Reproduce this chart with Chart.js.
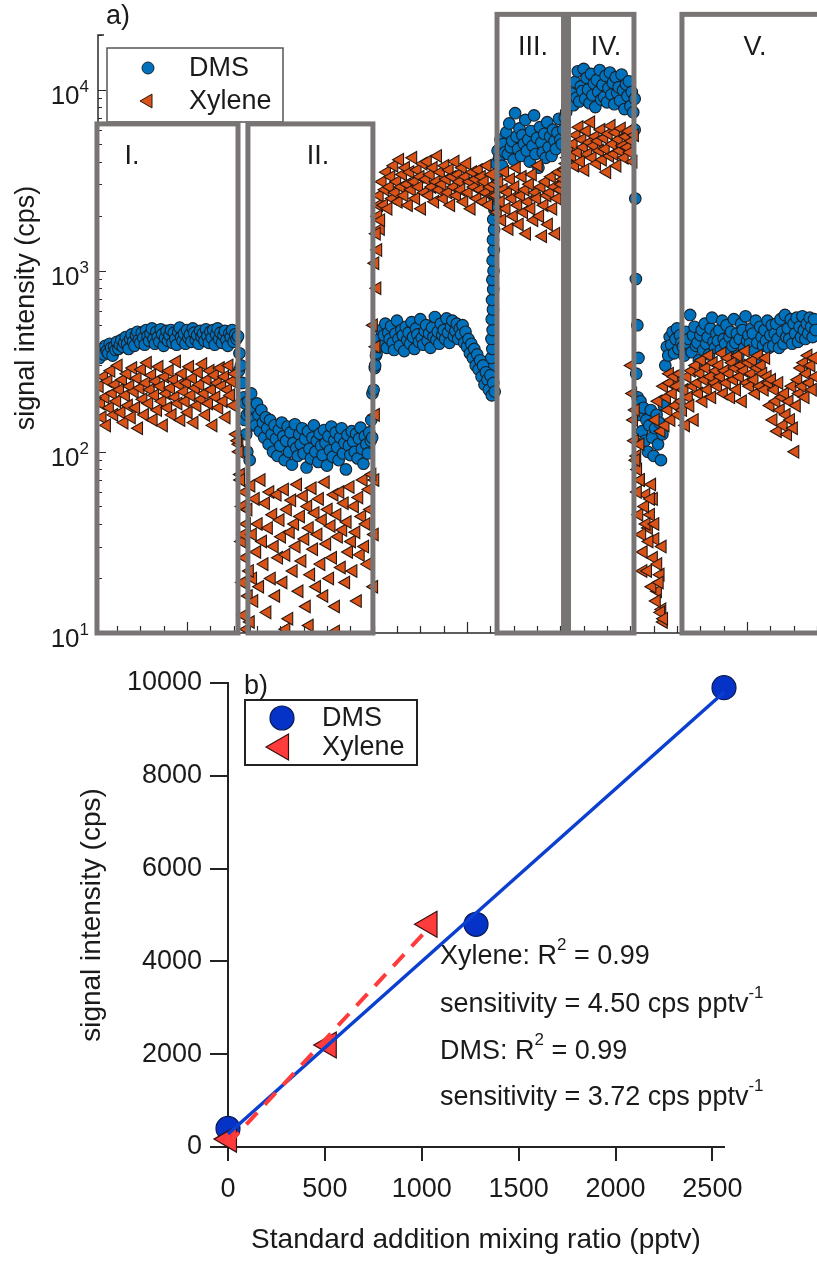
<!DOCTYPE html>
<html lang="en">
<head>
<meta charset="UTF-8">
<title>DMS and xylene standard addition</title>
<script src="https://cdn.jsdelivr.net/npm/chart.js"></script>
<style>
    body { margin: 0; background: #fff; }
    #wrap { position: relative; width: 817px; height: 1261px; }
    canvas { position: absolute; left: 0; }
    #timeChart { top: 0; }
    #calChart { top: 650px; }
</style>
</head>
<body>
<div id="wrap">
    <canvas id="timeChart" width="817" height="650"></canvas>
    <canvas id="calChart" width="817" height="611"></canvas>
</div>
<script>
// ---------- panel a) : signal per sample ----------
const firstSample = -12;

const dmsSignal = [
    // period I
    330, 355, 370, 345, 385, 360, 350, 395, 375, 340, 380, 365,
    405, 370, 390, 415, 380, 400, 430, 395, 370, 420, 445, 405,
    385, 440, 460, 415, 400, 455, 425, 390, 470, 435, 410, 450,
    480, 420, 395, 460, 430, 405, 475, 445, 385, 425, 465, 410,
    440, 470, 400, 455, 420, 390, 460, 485, 430, 410, 450, 395,
    470, 425, 445, 405, 480, 455, 415, 440, 395, 465, 430, 450,
    410, 475, 435, 400, 460, 425, 470, 390, 445, 480, 420, 455,
    400, 440, 465, 415, 385, 450, 430, 470, 405, 445, 420, 435,
    350, 300, 240, 200, 185, 160,
    // period II
    190, 165, 210, 150, 175, 140, 185, 160, 130, 170, 145, 120,
    155, 135, 110, 150, 125, 100, 140, 118, 95, 132, 108, 145,
    122, 90, 115, 138, 100, 128, 85, 112, 142, 105, 95, 125,
    110, 135, 98, 118, 82, 130, 104, 92, 120, 140, 100, 115,
    88, 126, 108, 96, 132, 112, 84, 122, 102, 138, 94, 116,
    128, 106, 90, 120, 135, 98, 112, 80, 124, 108, 96, 130,
    114, 100, 126, 92, 118, 136, 104, 86, 122, 110, 98, 128,
    115, 120,
    // between II and III
    220, 300, 350, 380, 420, 470, 390, 440, 510, 375, 455, 420,
    495, 400, 365, 450, 530, 420, 385, 470, 440, 360, 490, 415,
    455, 395, 520, 430, 370, 480, 445, 405, 540, 425, 390, 465,
    500, 410, 450, 375, 485, 430, 555, 415, 460, 395, 510, 440,
    470, 420, 545, 455, 400, 490, 530, 435, 465, 510, 420, 480,
    445, 500, 400, 460, 380, 420, 350, 395, 330, 370, 300, 345,
    285, 320, 260, 300, 235, 275, 250, 220, 265, 205, 240, 215,
    // period III
    3900, 4600, 4200, 5300, 3800, 5000, 4500, 5800, 4400, 6500, 4800, 5200,
    4100, 7400, 5500, 4700, 6100, 4300, 5600, 5000, 6800, 4600, 5300, 4000,
    5900, 4900, 7200, 4400, 5400, 3700, 6200, 5100, 4500, 5700, 4200, 6600,
    4800, 5500, 4300, 6000, 5200, 4700, 5800, 6900, 5300, 5000,
    6000, 7000, 7500, 8200, 8600, 9000,
    // period IV
    9500, 8200, 11000, 9000, 12600, 8600, 10400, 9800, 13000, 8900, 11600, 10000,
    8400, 12200, 9300, 10800, 8000, 11300, 9700, 12800, 8800, 10600, 9100, 11900,
    8500, 10200, 12400, 9400, 10900, 8300, 11700, 9600, 10300, 8700, 12100, 9900,
    7800, 10700, 9200, 11100, 8100, 9700, 7500, 8900,
    270, 200, 160, 190, 130, 175, 115, 150, 100, 140, 170, 120,
    95, 135, 160, 110, 145, 90, 125, 180, 300, 380, 340, 430,
    390, 460, 350, 420, 480, 370, 440, 400,
    // period V
    380, 340, 460, 400, 420, 570, 355, 440, 490, 385, 400, 320,
    440, 470, 365, 510, 395, 430, 345, 480, 550, 405, 375, 450,
    410, 470, 365, 530, 420, 395, 500, 355, 430, 460, 385, 540,
    400, 450, 340, 420, 510, 470, 375, 560, 410, 440, 395, 480,
    450, 360, 530, 400, 330, 490, 430, 385, 470, 410, 530, 375,
    440, 500, 385, 450, 510, 420, 375, 540, 460, 395, 570, 430,
    480, 420, 540, 395, 510, 450, 550, 405, 490, 430, 560, 470,
    420, 510, 450, 550, 490, 430, 540, 470
];

const xyleneSignal = [
    // period I
    230, 185, 155, 260, 200, 140, 245, 175, 280, 210, 160, 235,
    190, 300, 220, 165, 250, 145, 205, 270, 180, 230, 155, 290,
    215, 175, 255, 135, 225, 285, 195, 160, 240, 310, 185, 220,
    265, 150, 205, 245, 170, 295, 230, 190, 140, 260, 210, 175,
    280, 225, 160, 250, 200, 315, 185, 235, 150, 270, 215, 190,
    240, 165, 295, 205, 255, 145, 225, 180, 275, 235, 195, 305,
    210, 160, 250, 185, 280, 220, 140, 265, 200, 240, 175, 290,
    230, 190, 260, 155, 220, 300, 205, 245, 180, 270, 125, 115,
    100, 70, 50, 35, 60, 40,
    // period II
    48, 22, 65, 35, 15, 55, 28, 40, 18, 70, 32, 24,
    52, 13, 38, 60, 20, 45, 30, 16, 58, 26, 42, 34,
    19, 62, 27, 48, 12, 36, 54, 22, 40, 30, 66, 17,
    44, 25, 57, 33, 14, 50, 38, 21, 63, 29, 46, 18,
    35, 55, 24, 42, 16, 68, 31, 48, 20, 39, 26, 58,
    14, 45, 34, 60, 23, 37, 52, 19, 41, 28, 64, 32,
    22, 50, 36, 15, 56, 27, 44, 70, 30, 40, 24, 62,
    48, 75,
    // between II and III
    500, 1100, 1600, 2000, 2600, 1900, 3100, 2300, 2800, 3500, 2200, 2900,
    3300, 2500, 3800, 2700, 3100, 2400, 4100, 2900, 3400, 2600, 3700, 3000,
    2300, 3500, 2800, 4200, 3100, 2500, 3600, 2900, 3300, 2200, 3900, 2700,
    3200, 4000, 2600, 3400, 2900, 3700, 2400, 3100, 4300, 2800, 3500, 3000,
    2500, 3800, 3200, 2700, 3600, 2300, 3300, 2900, 4000, 2600, 3400, 3100,
    2800, 3700, 2400, 3300, 3900, 2700, 3100, 2200, 3500, 2900, 3200, 2500,
    3600, 2800, 3300, 2400, 3100, 2700, 3800, 2300, 2900, 3400, 2600, 3000,
    // period III
    2600, 2100, 3100, 2400, 1900, 2800, 3500, 2200, 2700, 1700, 3200, 2500,
    2000, 2900, 3700, 2300, 1800, 2600, 3300, 2100, 2800, 1600, 2400, 3000,
    2200, 3400, 1900, 2700, 2500, 3800, 2000, 2900, 1550, 2300, 3100, 2600,
    1800, 2700, 3300, 2200, 2900, 1600, 2500, 3500, 2800, 3000,
    3200, 3600, 3900, 4200, 4500, 4300,
    // period IV
    4300, 5000, 3800, 5600, 4500, 6200, 4000, 5300, 4800, 3600, 5900, 4400,
    5100, 6600, 4200, 4900, 5500, 3900, 5200, 4600, 6000, 4100, 5400, 4700,
    3500, 5700, 4300, 6300, 5000, 4400, 5800, 3800, 5300, 4600, 6100, 4900,
    4200, 5500, 4800, 5900, 4500, 5200, 4000, 5600,
    90, 60, 45, 70, 35, 28, 50, 40, 22, 32, 55, 18,
    26, 40, 15, 24, 19, 13, 30, 12,
    140, 200, 170, 240, 150, 210, 260, 180, 230, 160, 270, 190,
    // period V
    170, 220, 140, 260, 200, 180, 280, 230, 150, 300, 240, 210,
    270, 320, 190, 250, 290, 220, 340, 260, 200, 310, 240, 280,
    230, 300, 260, 350, 210, 280, 240, 330, 270, 200, 310, 250,
    290, 220, 340, 260, 300, 190, 280, 360, 240, 310, 230, 270,
    320, 250, 210, 290, 340, 230, 300, 270, 220, 330, 260, 240,
    180, 250, 150, 220, 190, 130, 240, 170, 200, 140, 210, 160,
    125, 190, 150, 230, 135, 100, 180, 250, 210, 290, 230, 310,
    200, 270, 340, 240, 300, 220, 330, 260
];

// extra readings logged while the standard flow was switching [sample, cps]
const dmsSwitch = [
    [83.6, 280], [85.2, 240], [86.4, 190], [87.6, 150], [88.6, 125], [89.4, 100], [91, 90], [92.6, 140],
    [174.4, 150], [175.2, 210], [176.8, 290], [177.6, 340], [178.6, 390],
    [256.4, 260], [257.2, 290], [256.6, 330], [257.4, 370], [256.8, 420], [257.6, 470], [257.0, 540],
    [257.8, 610], [257.2, 690], [258.0, 790], [257.4, 890], [258.2, 1000], [257.6, 1140], [258.4, 1300],
    [257.8, 1480], [258.6, 1690], [258.0, 1920], [258.8, 2170], [259.0, 2500], [259.4, 2900], [259.8, 3300],
    [355, 6000], [355.4, 2500], [355.8, 900], [356.8, 500], [357.6, 330]
];
const xyleneSwitch = [
    [83.8, 110], [84.8, 75], [85.6, 32], [86.2, 19], [87, 12.5], [88, 26], [89, 10.5], [90.2, 16],
    [91.6, 11.5], [93.2, 20], [116, 10.5], [132, 11], [150, 10.2],
    [176.2, 18], [176.6, 35], [177, 70], [177.4, 160], [177.8, 380], [178.4, 800], [179, 1300], [179.6, 2300], [180.8, 1700],
    [352.8, 300], [353.8, 210], [354.4, 150], [355, 115], [355.6, 170], [356.6, 95], [357.2, 80], [358.8, 110],
    [359.2, 70], [360.8, 22], [362.8, 58], [364.6, 38], [366.8, 66], [369, 33], [370.8, 17], [372.6, 21],
    [373.8, 13.5], [374.8, 11.5], [366, 45], [368, 55],
    [369.2, 150], [371.2, 190], [373.2, 130], [375, 230], [379, 270], [383, 240]
];

// measurement periods (sample range, box top in cps)
const periodNames = ['I.', 'II.', 'III.', 'IV.', 'V.'];
const periodStart = [-13.7, 89.8, 260.6, 309.6, 387.4];
const periodEnd = [83.0, 175.5, 306.2, 354.5, 520];
const periodTop = [6460, 6460, 26000, 26000, 26000];
const periodLabelX = [132, 318, 533, 606, 755];

const decadeTicks = [10, 100, 1000, 10000];
const decadeExp = ['1', '2', '3', '4'];

// ---------- panel b) : standard addition ----------
const dmsAdded = [0, 1280, 2560];
const dmsCps = [400, 4800, 9900];
const xyleneAdded = [5, 520, 1040];
const xyleneCps = [170, 2200, 4800];
const dmsFitX = [0, 2560];
const dmsFitY = [280, 9800];
const xyleneFitX = [0, 1040];
const xyleneFitY = [60, 4740];
const mixTicks = [0, 500, 1000, 1500, 2000, 2500];
const cpsTicks = [0, 2000, 4000, 6000, 8000, 10000];

const FONT = "'Liberation Sans', Arial, Helvetica, sans-serif";
Chart.defaults.font.family = FONT;

const pts = (xs, ys) => xs.map((v, i) => ({ x: v, y: ys[i] }));
const series = vals => vals.map((v, i) => ({ x: firstSample + i, y: v }));
const pairs = list => list.map(([x, y]) => ({ x, y }));

const DMS_A = { pointStyle: 'circle', pointRadius: 5.8, pointBackgroundColor: '#0072BD', pointBorderColor: '#1a2129', pointBorderWidth: 1.1 };
const XYL_A = { pointStyle: 'triangle', pointRadius: 7.3, pointRotation: -90, pointBackgroundColor: '#D95319', pointBorderColor: '#281810', pointBorderWidth: 1.1 };

function marker(ctx, x, y, fill, stroke, opts) {
    ctx.fillStyle = fill;
    ctx.strokeStyle = stroke;
    ctx.lineWidth = opts.borderWidth;
    Chart.helpers.drawPoint(ctx, opts, x, y);
}

// text with superscript parts: [[text, isSup], ...]
function richText(ctx, parts, x, y, size) {
    let cx = x;
    ctx.textAlign = 'left';
    ctx.textBaseline = 'middle';
    for (const [txt, sup] of parts) {
        const s = sup ? Math.round(size * 0.62) : size;
        ctx.font = s + 'px ' + FONT;
        ctx.fillText(txt, cx, sup ? y - size * 0.45 : y);
        cx += ctx.measureText(txt).width;
    }
}

// axes, period boxes and legend for panel a
const panelA = {
    id: 'panelA',
    afterDraw(chart) {
        const { ctx, chartArea: a, scales: { x, y } } = chart;
        ctx.save();

        // axis lines
        ctx.strokeStyle = '#2a2a2a';
        ctx.lineWidth = 1.5;
        ctx.beginPath();
        ctx.moveTo(a.left + 6, a.top);
        ctx.lineTo(a.left, a.top);
        ctx.lineTo(a.left, a.bottom);
        ctx.lineTo(a.right, a.bottom);
        ctx.stroke();

        // log ticks, pointing inwards
        ctx.lineWidth = 1.2;
        ctx.beginPath();
        for (const d of decadeTicks) {
            for (let m = 1; m < 10; m++) {
                const v = d * m;
                if (v > y.max) break;
                const py = Math.round(y.getPixelForValue(v)) + 0.5;
                ctx.moveTo(a.left, py);
                ctx.lineTo(a.left + (m === 1 ? 8 : 4), py);
            }
        }
        for (let t = 0; t <= x.max; t += 16) {
            const px = Math.round(x.getPixelForValue(t)) + 0.5;
            ctx.moveTo(px, a.bottom);
            ctx.lineTo(px, a.bottom - ((t - 48) % 192 === 0 ? 11 : 7));
        }
        ctx.stroke();

        // decade labels
        ctx.fillStyle = '#1a1a1a';
        ctx.textAlign = 'left';
        ctx.textBaseline = 'alphabetic';
        decadeTicks.forEach((v, i) => {
            const py = y.getPixelForValue(v);
            ctx.font = '17px ' + FONT;
            const we = ctx.measureText(decadeExp[i]).width;
            ctx.font = '26px ' + FONT;
            const wb = ctx.measureText('10').width;
            const right = 89;
            ctx.fillText('10', right - we - wb, py + 14);
            ctx.font = '17px ' + FONT;
            ctx.fillText(decadeExp[i], right - we, py + 2);
        });

        // axis title
        ctx.save();
        ctx.translate(27, 308);
        ctx.rotate(-Math.PI / 2);
        ctx.textAlign = 'center';
        ctx.textBaseline = 'middle';
        ctx.font = '27px ' + FONT;
        ctx.fillText('signal intensity (cps)', 0, 0);
        ctx.restore();

        // panel letter
        ctx.font = '27px ' + FONT;
        ctx.textAlign = 'left';
        ctx.textBaseline = 'middle';
        ctx.fillText('a)', 106, 17);

        // legend
        ctx.fillStyle = '#fff';
        ctx.fillRect(107, 48, 176, 74);
        ctx.strokeStyle = '#555';
        ctx.lineWidth = 1.5;
        ctx.strokeRect(107, 48, 176, 74);
        marker(ctx, 148, 68, '#0072BD', '#1c232b', { pointStyle: 'circle', radius: 6, borderWidth: 1, rotation: 0 });
        marker(ctx, 148, 101, '#D95319', '#2a1a12', { pointStyle: 'triangle', radius: 8, borderWidth: 1, rotation: -90 });
        ctx.fillStyle = '#1a1a1a';
        ctx.font = '27px ' + FONT;
        ctx.fillText('DMS', 189, 69);
        ctx.fillText('Xylene', 189, 102);

        // period boxes
        ctx.strokeStyle = '#787474';
        ctx.lineWidth = 5;
        periodNames.forEach((name, i) => {
            const x0 = x.getPixelForValue(periodStart[i]);
            const x1 = x.getPixelForValue(periodEnd[i]);
            const y0 = y.getPixelForValue(periodTop[i]);
            ctx.strokeRect(x0, y0, x1 - x0, a.bottom - y0);
        });

        ctx.fillStyle = '#1a1a1a';
        ctx.font = '27px ' + FONT;
        ctx.textAlign = 'center';
        periodNames.forEach((name, i) => {
            const y0 = y.getPixelForValue(periodTop[i]);
            ctx.fillText(name, periodLabelX[i], y0 + 33);
        });

        ctx.restore();
    }
};

new Chart(document.getElementById('timeChart'), {
    type: 'scatter',
    data: {
        datasets: [
            { label: 'Xylene', data: series(xyleneSignal), ...XYL_A },
            { label: 'Xylene switching', data: pairs(xyleneSwitch), ...XYL_A },
            { label: 'DMS', data: series(dmsSignal), ...DMS_A },
            { label: 'DMS switching', data: pairs(dmsSwitch), ...DMS_A }
        ]
    },
    options: {
        responsive: false,
        animation: false,
        devicePixelRatio: 1,
        events: [],
        layout: { autoPadding: false, padding: { left: 98, right: 0, top: 35, bottom: 17 } },
        plugins: { legend: { display: false }, tooltip: { enabled: false } },
        scales: {
            x: { type: 'linear', min: -13, max: 480, display: false },
            y: { type: 'logarithmic', min: 10, max: 20000, display: false }
        }
    },
    plugins: [panelA]
});

// legend, panel letter and fit statistics for panel b
const panelB = {
    id: 'panelB',
    afterDraw(chart) {
        const { ctx } = chart;
        ctx.save();
        ctx.fillStyle = '#1a1a1a';
        ctx.font = '27px ' + FONT;
        ctx.textAlign = 'left';
        ctx.textBaseline = 'middle';
        ctx.fillText('b)', 244, 37);

        ctx.strokeStyle = '#222';
        ctx.lineWidth = 2;
        ctx.strokeRect(245, 50, 172, 65);
        marker(ctx, 282, 68, '#0533c8', '#0a1a50', { pointStyle: 'circle', radius: 12, borderWidth: 1.2, rotation: 0 });
        marker(ctx, 281, 97, '#ff3b3b', '#3a1010', { pointStyle: 'triangle', radius: 15, borderWidth: 1.2, rotation: -90 });
        ctx.fillStyle = '#1a1a1a';
        ctx.font = '27px ' + FONT;
        ctx.fillText('DMS', 322, 69);
        ctx.fillText('Xylene', 322, 98);

        const size = 27;
        richText(ctx, [['Xylene: R', false], ['2', true], [' = 0.99', false]], 440, 307, size);
        richText(ctx, [['sensitivity = 4.50 cps pptv', false], ['-1', true]], 440, 355, size);
        richText(ctx, [['DMS: R', false], ['2', true], [' = 0.99', false]], 440, 402, size);
        richText(ctx, [['sensitivity = 3.72 cps pptv', false], ['-1', true]], 440, 448, size);
        ctx.restore();
    }
};

const axisGrid = { drawOnChartArea: false, drawTicks: true, color: '#222', lineWidth: 2 };
const axisBorder = { display: true, color: '#222', width: 2 };

new Chart(document.getElementById('calChart'), {
    type: 'scatter',
    data: {
        datasets: [
            {
                label: 'Xylene fit', type: 'line', data: pts(xyleneFitX, xyleneFitY),
                borderColor: '#ff3b3b', borderWidth: 4, borderDash: [16, 11], pointRadius: 0, fill: false, clip: false
            },
            {
                label: 'DMS fit', type: 'line', data: pts(dmsFitX, dmsFitY),
                borderColor: '#0a3fd0', borderWidth: 3.5, pointRadius: 0, fill: false, clip: false
            },
            {
                label: 'Xylene', data: pts(xyleneAdded, xyleneCps), clip: false,
                pointStyle: 'triangle', pointRadius: 15, pointRotation: -90,
                pointBackgroundColor: '#ff3b3b', pointBorderColor: '#3a1010', pointBorderWidth: 1.2
            },
            {
                label: 'DMS', data: pts(dmsAdded, dmsCps), clip: false,
                pointStyle: 'circle', pointRadius: 12,
                pointBackgroundColor: '#0533c8', pointBorderColor: '#0a1a50', pointBorderWidth: 1.2
            }
        ]
    },
    options: {
        responsive: false,
        animation: false,
        devicePixelRatio: 1,
        events: [],
        layout: { autoPadding: false, padding: { left: 70, right: 93, top: 33, bottom: 0 } },
        plugins: { legend: { display: false }, tooltip: { enabled: false } },
        scales: {
            x: {
                type: 'linear', min: 0, max: 2560,
                afterFit: s => { s.height = 114; },
                afterBuildTicks: s => { s.ticks = mixTicks.map(v => ({ value: v })); },
                ticks: { padding: 12, color: '#1a1a1a', font: { size: 27 }, callback: v => String(v) },
                grid: { ...axisGrid, tickLength: 14 },
                border: axisBorder,
                title: {
                    display: true, text: 'Standard addition mixing ratio (pptv)',
                    color: '#1a1a1a', font: { size: 28 }, padding: { top: 0, bottom: 4 }
                }
            },
            y: {
                type: 'linear', min: 0, max: 10000,
                afterFit: s => { s.width = 158; },
                afterBuildTicks: s => { s.ticks = cpsTicks.map(v => ({ value: v })); },
                ticks: { padding: 8, color: '#1a1a1a', font: { size: 27 }, callback: v => String(v) },
                grid: { ...axisGrid, tickLength: 18 },
                border: axisBorder,
                title: {
                    display: true, text: 'signal intensity (cps)',
                    color: '#1a1a1a', font: { size: 28 }, padding: { top: 5, bottom: 0 }
                }
            }
        }
    },
    plugins: [panelB]
});
</script>
</body>
</html>
